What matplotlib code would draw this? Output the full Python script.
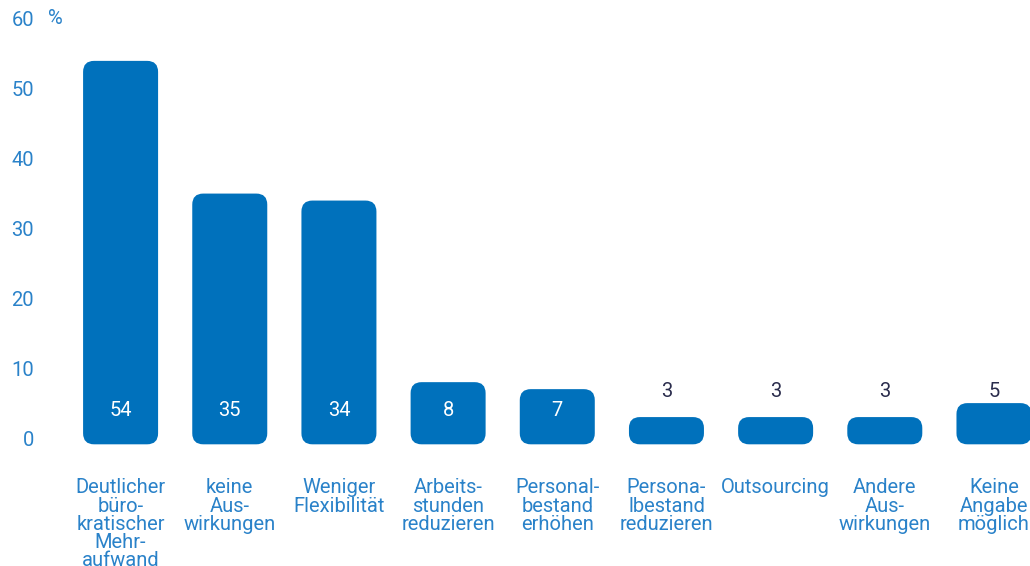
import matplotlib.pyplot as plt
from matplotlib.patches import FancyBboxPatch
from matplotlib.transforms import blended_transform_factory

plt.rcParams['font.family'] = ['Roboto', 'DejaVu Sans']

categories = [
    "Deutlicher\nbüro-\nkratischer\nMehr-\naufwand",
    "keine\nAus-\nwirkungen",
    "Weniger\nFlexibilität",
    "Arbeits-\nstunden\nreduzieren",
    "Personal-\nbestand\nerhöhen",
    "Persona-\nlbestand\nreduzieren",
    "Outsourcing",
    "Andere\nAus-\nwirkungen",
    "Keine\nAngabe\nmöglich",
]
values = [54, 35, 34, 8, 7, 3, 3, 3, 5]
y_ticks = [0, 10, 20, 30, 40, 50, 60]

BAR = "#0071bc"
TEXT_BLUE = "#2a82c9"
DARK = "#2b2d4d"
FS = 14.5

W, H = 1030, 566
fig = plt.figure(figsize=(W / 100, H / 100), dpi=100)
# axes placed in pixels: zero line at y=438, 6.98 px per percent, 109.2 px per bar
ax = fig.add_axes([66 / W, (H - 452) / H, (W - 66) / W, 447 / H])
ax.set_xlim(-0.5, 8.33)
ax.set_ylim(-2, 62)

bar_w = 0.687
base = -0.9
radius_x = 0.1
aspect = 15.7
for i, v in enumerate(values):
    box = FancyBboxPatch((i - bar_w / 2, base), bar_w, v - base,
                         boxstyle=f"round,pad=0,rounding_size={radius_x}",
                         mutation_aspect=aspect, fc=BAR, ec="none")
    ax.add_patch(box)
    if v > 6:
        ax.text(i, 4.0, str(v), ha="center", va="center", color="white",
                fontsize=FS)
    else:
        ax.text(i, 6.7, str(v), ha="center", va="center", color=DARK,
                fontsize=FS)

for s in ax.spines.values():
    s.set_visible(False)

ax.set_yticks(y_ticks)
ax.set_yticklabels([str(t) for t in y_ticks], color=TEXT_BLUE, fontsize=FS)
ax.tick_params(axis="y", length=0, pad=23)

ax.set_xticks(range(len(categories)))
ax.set_xticklabels(categories, color=TEXT_BLUE, fontsize=FS,
                   linespacing=0.95, va="top")
ax.tick_params(axis="x", length=0, pad=19)

trans = blended_transform_factory(ax.transAxes, ax.transData)
ax.text(-0.019, 60, "%", transform=trans, ha="left", va="center",
        color=TEXT_BLUE, fontsize=FS)

fig.savefig("out.png", dpi=100)
